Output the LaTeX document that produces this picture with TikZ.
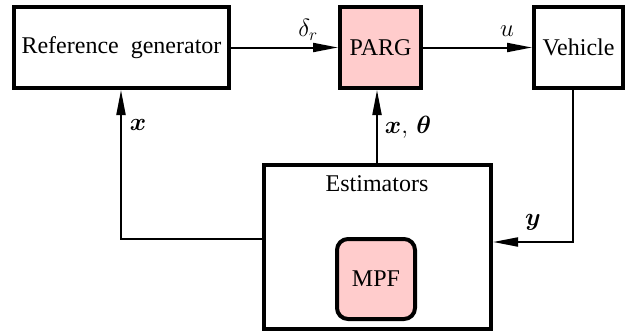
\documentclass[tikz,border=0pt]{standalone}
\usepackage{amsmath,amssymb}
\usepackage{fontspec}
\setmainfont{LiberationSerif}[Extension=.ttf, UprightFont=*-Regular, BoldFont=*-Bold, ItalicFont=*-Italic, BoldItalicFont=*-BoldItalic]
\usetikzlibrary{arrows.meta,positioning}
\definecolor{blockpink}{RGB}{255,204,204}
\tikzset{
  blk/.style={draw, line width=4pt, inner sep=0pt, font=\rmfamily\fontsize{24}{28}\selectfont},
  sig/.style={line width=2pt, -{Triangle[length=25pt,width=9pt]}},
  lbl/.style={inner sep=0pt, font=\rmfamily\fontsize{24}{28}\selectfont},
}
\begin{document}
\begin{tikzpicture}[x=1pt,y=-1pt]
\useasboundingbox (0,0) rectangle (629,332);
% blocks
\node[blk, minimum width=215pt, minimum height=81pt] (ref) at (121.5,47.5) {Reference\ \ generator};
\node[blk, fill=blockpink, minimum width=81pt, minimum height=81pt] (parg) at (380.5,47.5) {PARG};
\node[blk, minimum width=89pt, minimum height=81pt] (veh) at (578.5,47.5) {Vehicle};
\node[blk, minimum width=227pt, minimum height=164pt] (est) at (377.5,247) {};
\node[lbl] (esttxt) at (377,184) {Estimators};
\node[blk, fill=blockpink, rounded corners=11pt, minimum width=78pt, minimum height=80pt] (mpf) at (376,279) {MPF};
% helper points
\coordinate (lx) at (121,239);
\coordinate (vy) at (573,242);
% signals
\draw[sig] (ref.east) -- (parg.west);
\draw[sig] (parg.east) -- (veh.west);
\draw[sig] (est.west |- lx) -- (lx) -- (lx |- ref.south);
\draw[sig] (377,165) coordinate (eo) -- (eo |- parg.south);
\draw[sig] (vy |- veh.south) -- (vy) -- (vy -| est.east);
% signal labels
\node[lbl] (ldr) at (308,30) {$\delta_r$};
\node[lbl] (lu) at (507,31) {$u$};
\node[lbl] (lx1) at (138,125) {$\boldsymbol{x}$};
\node[lbl] (lxt) at (408,127) {$\boldsymbol{x},\,\boldsymbol{\theta}$};
\node[lbl] (ly) at (533,222) {$\boldsymbol{y}$};
\end{tikzpicture}
\end{document}
